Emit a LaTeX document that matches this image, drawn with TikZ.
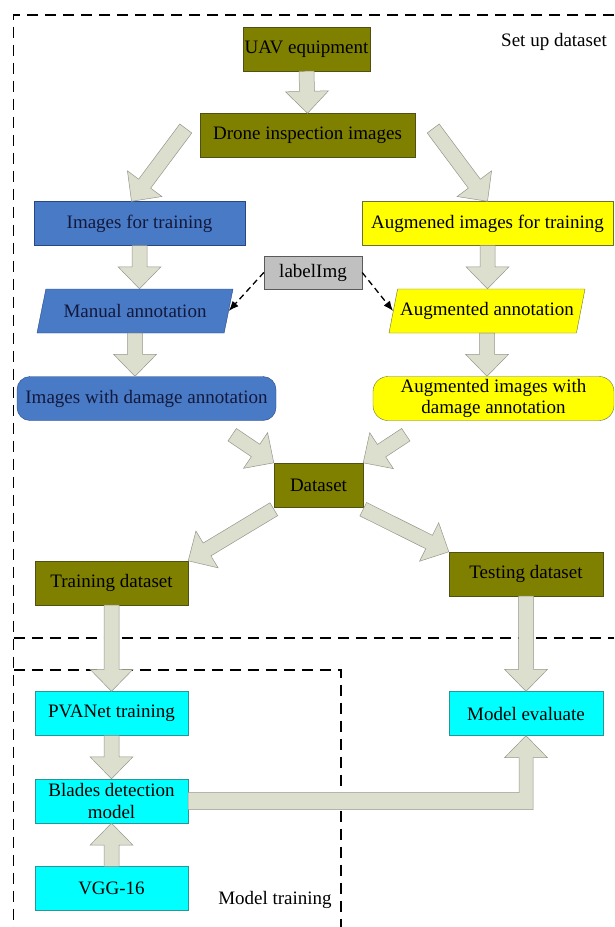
\documentclass[tikz,border=0pt]{standalone}
\usepackage{fontspec}
\setmainfont{Liberation Serif}
\usetikzlibrary{shapes.geometric,
                calc,
                arrows.meta}

\definecolor{oliveFill}{RGB}{128,128,0}
\definecolor{oliveLine}{RGB}{80,80,20}
\definecolor{blueFill}{RGB}{72,122,198}
\definecolor{blueLine}{RGB}{40,70,130}
\definecolor{blueText}{RGB}{20,25,60}
\definecolor{yellowFill}{RGB}{255,255,0}
\definecolor{yellowLine}{RGB}{110,110,60}
\definecolor{cyanFill}{RGB}{0,255,255}
\definecolor{cyanLine}{RGB}{40,150,150}
\definecolor{grayFill}{RGB}{192,192,192}
\definecolor{grayLine}{RGB}{90,90,90}
\definecolor{arrowFill}{RGB}{220,222,206}
\definecolor{arrowLine}{RGB}{150,150,138}

\begin{document}
\begin{tikzpicture}[x=1pt, y=1pt,
box/.style = {draw, inner sep=1pt, minimum height=44,
              font=\fontsize{19}{21.5}\selectfont, align=center},
olive box/.style  = {box, fill=oliveFill, draw=oliveLine},
blue box/.style   = {box, fill=blueFill, draw=blueLine, text=blueText},
yellow box/.style = {box, fill=yellowFill, draw=yellowLine},
cyan box/.style   = {box, fill=cyanFill, draw=cyanLine, minimum width=153},
slanted/.style    = {trapezium, trapezium stretches body,
                     trapezium left angle=60, trapezium right angle=120},
arrowbody/.style  = {draw=arrowLine, fill=arrowFill, line width=0.5pt},
blockarrow/.style = {arrowbody,
    to path={let \p1=($(\tikztotarget)!22pt!(\tikztostart)$) in
      ($(\tikztostart)!7.5pt!90:(\tikztotarget)$)
      -- ($(\p1)!7.5pt!90:(\tikztotarget)$)
      -- ($(\p1)!21.5pt!90:(\tikztotarget)$)
      -- (\tikztotarget)
      -- ($(\p1)!21.5pt!-90:(\tikztotarget)$)
      -- ($(\p1)!7.5pt!-90:(\tikztotarget)$)
      -- ($(\tikztostart)!7.5pt!-90:(\tikztotarget)$) -- cycle}},
dasharrow/.style  = {draw, line width=1.3pt, dash pattern=on 6pt off 4pt,
                     -{Latex[length=10pt,width=8pt]}},
frameline/.style  = {draw, line width=1.5pt, dash pattern=on 11pt off 7pt},
label text/.style = {font=\fontsize{19}{21.5}\selectfont}
                   ]
\useasboundingbox (0,0) rectangle (614,-927);

% dashed frames
\draw[frameline] (614,-15) -- (13.7,-15) -- (13.7,-927);
\draw[frameline] (13.7,-638) -- (614,-638);
\draw[frameline] (13.7,-670) -- (341,-670) -- (341,-927);
\node[label text] (setup) at (554,-42) {Set up dataset};
\node[label text] (train) at (275,-900) {Model training};

% set up dataset
\node[olive box, minimum width=127] (uav) at (306.5,-49) {UAV equipment};
\node[olive box, minimum width=215] (drone) at (307.5,-135.5) {Drone inspection images};
\node[blue box, minimum width=211] (imgtrain) at (139.5,-223.5) {Images for training};
\node[yellow box, minimum width=251] (augtrain) at (487.5,-223.5) {Augmened images for training};
\node[box, fill=grayFill, draw=grayLine, minimum width=98, minimum height=33] (labelimg) at (313,-272.5) {labelImg};
\node[blue box, slanted, minimum width=196] (manual) at (135,-311) {Manual annotation};
\node[yellow box, slanted, trapezium left angle=66, trapezium right angle=114,
      minimum width=196] (augann) at (487,-311) {Augmented annotation};
\node[blue box, rounded corners=13, minimum width=259] (imgdmg) at (146.5,-398.5) {Images with damage annotation};
\node[yellow box, rounded corners=15, minimum width=241, inner sep=1pt] (augdmg) at (493.5,-398.5)
      {Augmented images with\\damage annotation};
\node[olive box, minimum width=89] (dataset) at (318.5,-485) {Dataset};
\node[olive box, minimum width=153] (traindata) at (111.5,-583) {Training dataset};
\node[olive box, minimum width=154] (testdata) at (526,-574) {Testing dataset};

% model training
\node[cyan box] (pvanet) at (111.5,-713.5) {PVANet training};
\node[cyan box, minimum width=154] (evaluate) at (526,-713.5) {Model evaluate};
\node[cyan box] (blades) at (111.5,-801) {Blades detection\\model};
\node[cyan box] (vgg) at (111.5,-888.5) {VGG-16};

% block arrows
\path[blockarrow] (uav.south) to (drone.north);
\path[blockarrow] ($(drone.west)+(-14,7)$) to ($(imgtrain.north)+(-8,0)$);
\path[blockarrow] ($(drone.east)+(18,7)$) to (augtrain.north);
\path[blockarrow] (imgtrain.south) to (imgtrain.south |- manual.north);
\path[blockarrow] (manual.south) to (manual.south |- imgdmg.north);
\path[blockarrow] (augtrain.south) to (augtrain.south |- augann.north);
\path[blockarrow] (augann.south) to (augann.south |- augdmg.north);
\path[blockarrow] ($(imgdmg.south east)+(-44,-14)$) to (dataset.north west);
\path[blockarrow] ($(augdmg.south west)+(33,-14)$) to (dataset.north east);
\path[blockarrow] ($(dataset.south west)+(0,-2)$) to (traindata.north east);
\path[blockarrow] ($(dataset.south east)+(0,-2)$) to (testdata.north west);
\path[blockarrow] (traindata.south) to (pvanet.north);
\path[blockarrow] (testdata.south) to (evaluate.north);
\path[blockarrow] (pvanet.south) to (blades.north);
\path[blockarrow] (vgg.north) to (blades.south);
\draw[arrowbody] ($(blades.east)+(0,8.5)$) -- ($(blades.east -| evaluate.south)+(-7,8.5)$)
  -- ($(evaluate.south)+(-7,-22)$) -- ($(evaluate.south)+(-21.5,-22)$) -- (evaluate.south)
  -- ($(evaluate.south)+(21.5,-22)$) -- ($(evaluate.south)+(7,-22)$)
  -- ($(blades.east -| evaluate.south)+(7,-8.5)$) -- ($(blades.east)+(0,-8.5)$) -- cycle;

% labelImg
\draw[dasharrow] (labelimg.west) -- (manual.east);
\draw[dasharrow] (labelimg.east) -- (augann.west);

\end{tikzpicture}
\end{document}
